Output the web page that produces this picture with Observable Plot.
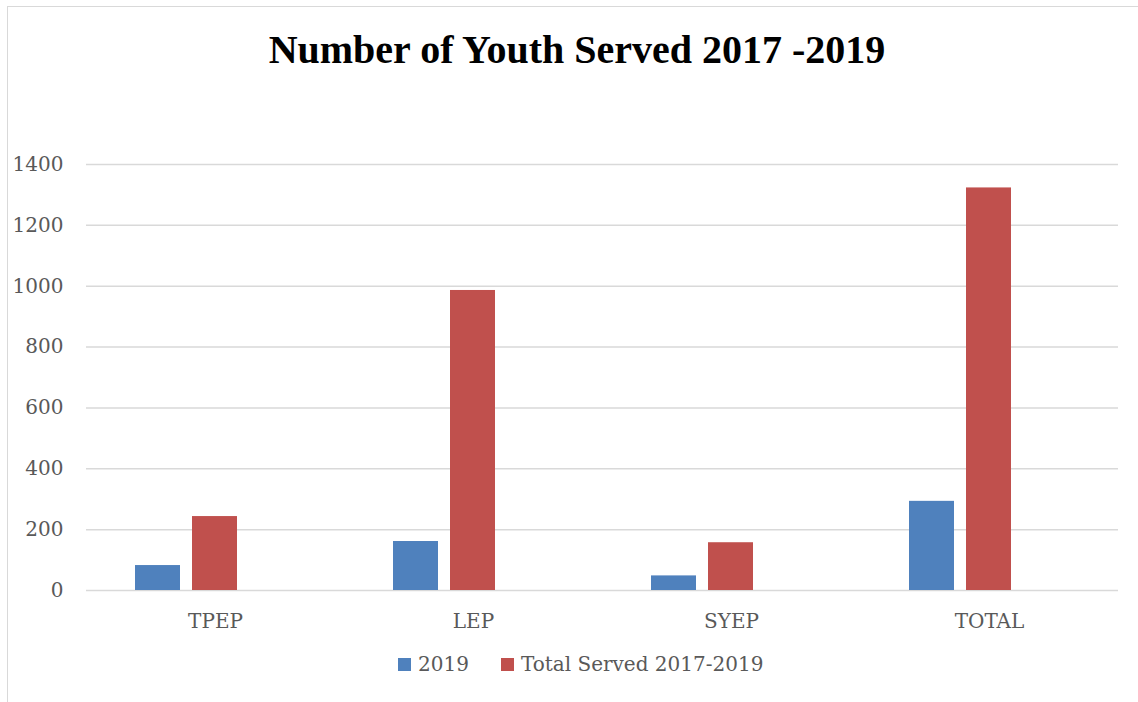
<!DOCTYPE html>
<html>
<head>
<meta charset="utf-8">
<script src="https://cdn.jsdelivr.net/npm/d3@7"></script>
<script src="https://cdn.jsdelivr.net/npm/@observablehq/plot@0.6"></script>
<style>
  html, body { margin: 0; padding: 0; background: #fff; }
  #page { position: relative; width: 1138px; height: 702px; overflow: hidden; }
  #frame { position: absolute; left: 7px; top: 6px; width: 1140px; height: 700px;
           border-left: 1.5px solid #d9d9d9; border-top: 1.5px solid #d9d9d9; }
  #title { position: absolute; left: 177px; width: 800px; top: 25px; text-align: center;
           font-family: "Liberation Serif", serif; font-weight: bold; font-size: 40px;
           line-height: 50px; color: #000; white-space: nowrap; }
  #chart { position: absolute; left: 0; top: 110px; }
  #legend { position: absolute; left: 398px; top: 652px; display: flex; align-items: center;
            font-family: "DejaVu Serif", serif; font-size: 20px; color: #595959; line-height: 24px; }
  .sw { display: inline-block; width: 13px; height: 13px; margin-right: 7px; }
  .item { display: flex; align-items: center; margin-right: 32px; white-space: nowrap; }
</style>
</head>
<body>
<div id="page">
  <div id="frame"></div>
  <div id="title"></div>
  <div id="chart"></div>
  <div id="legend"></div>
</div>
<script>
const titleText = "Number of Youth Served 2017 -2019";
const categories = ["TPEP", "LEP", "SYEP", "TOTAL"];
const series = ["2019", "Total Served 2017-2019"];
const values2019 = [82, 161, 48, 293];
const valuesTotal = [243, 986, 157, 1323];
const yTicks = [0, 200, 400, 600, 800, 1000, 1200, 1400];
const colors = ["#4f81bd", "#c0504d"];

const data = categories.flatMap((c, i) => [
  {category: c, series: series[0], value: values2019[i]},
  {category: c, series: series[1], value: valuesTotal[i]}
]);

document.getElementById("title").textContent = titleText;

const chart = Plot.plot({
  width: 1138,
  height: 535,
  marginLeft: 86,
  marginRight: 20,
  marginTop: 54,
  marginBottom: 55,
  style: {fontFamily: "DejaVu Serif, serif", fontSize: "20px", color: "#595959", background: "transparent", overflow: "visible"},
  fx: {domain: categories, padding: 0, label: null, axis: "bottom", tickSize: 0, tickPadding: 23},
  x: {domain: [...series, " "], paddingInner: 0.21, paddingOuter: 0.868, axis: null},
  y: {domain: [0, 1400], ticks: yTicks, tickFormat: d => String(d), tickSize: 0, tickPadding: 23, label: null},
  color: {domain: series, range: colors},
  marks: [
    Plot.ruleY(yTicks, {stroke: "#d9d9d9", strokeWidth: 1.5}),
    Plot.barY(data, {fx: "category", x: "series", y: "value", fill: "series"})
  ]
});
document.getElementById("chart").appendChild(chart);

const legend = document.getElementById("legend");
series.forEach((s, i) => {
  const item = document.createElement("div");
  item.className = "item";
  const sw = document.createElement("span");
  sw.className = "sw";
  sw.style.background = colors[i];
  item.appendChild(sw);
  item.appendChild(document.createTextNode(s));
  legend.appendChild(item);
});
</script>
</body>
</html>
